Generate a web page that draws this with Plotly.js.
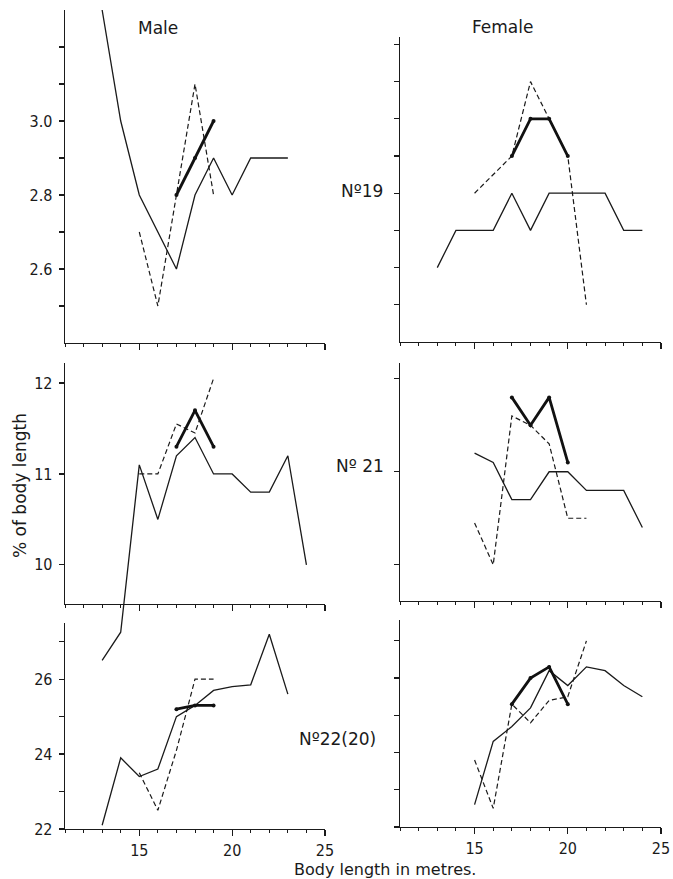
<!DOCTYPE html>
<html><head><meta charset="utf-8">
<script src="https://cdn.plot.ly/plotly-3.0.1.min.js"></script>
<style>html,body{margin:0;padding:0;background:#fff}#chart{width:673px;height:879px}</style>
</head><body><div id="chart"></div>
<script>
// ---------- DATA (body length in metres, % of body length) ----------
// No 19
const maleLen19 = [13,14,15,16,17,18,19,20,21,22,23];
const maleThin19 = [3.3,3.0,2.8,2.7,2.6,2.8,2.9,2.8,2.9,2.9,2.9];
const maleDashLen19 = [15,16,17,18,19];
const maleDash19 = [2.7,2.5,2.8,3.1,2.8];
const maleThickLen19 = [17,18,19];
const maleThick19 = [2.8,2.9,3.0];
const femLen19 = [13,14,15,16,17,18,19,20,21,22,23,24];
const femThin19 = [2.6,2.7,2.7,2.7,2.8,2.7,2.8,2.8,2.8,2.8,2.7,2.7];
const femDashLen19 = [15,16,17,18,19,20,21];
const femDash19 = [2.8,2.85,2.9,3.1,3.0,2.9,2.5];
const femThickLen19 = [17,18,19,20];
const femThick19 = [2.9,3.0,3.0,2.9];
// No 21
const maleLen21 = [13,14,15,16,17,18,19,20,21,22,23,24];
const maleThin21 = [8.95,9.26,11.1,10.5,11.2,11.4,11.0,11.0,10.8,10.8,11.2,10.0];
const maleDashLen21 = [15,16,17,18,19];
const maleDash21 = [11.0,11.0,11.55,11.45,12.05];
const maleThickLen21 = [17,18,19];
const maleThick21 = [11.3,11.7,11.3];
const femLen21 = [15,16,17,18,19,20,21,22,23,24];
const femThin21 = [11.2,11.1,10.7,10.7,11.0,11.0,10.8,10.8,10.8,10.4];
const femDashLen21 = [15,16,17,18,19,20,21];
const femDash21 = [10.45,10.0,11.6,11.5,11.3,10.5,10.5];
const femThickLen21 = [17,18,19,20];
const femThick21 = [11.8,11.5,11.8,11.1];
// No 22(20)
const maleLen22 = [13,14,15,16,17,18,19,20,21,22,23];
const maleThin22 = [22.1,23.9,23.4,23.6,25.0,25.3,25.7,25.8,25.85,27.2,25.6];
const maleDashLen22 = [15,16,17,18,19];
const maleDash22 = [23.5,22.5,24.1,26.0,26.0];
const maleThickLen22 = [17,18,19];
const maleThick22 = [25.2,25.3,25.3];
const femLen22 = [15,16,17,18,19,20,21,22,23,24];
const femThin22 = [22.6,24.3,24.7,25.2,26.2,25.8,26.3,26.2,25.8,25.5];
const femDashLen22 = [15,16,17,18,19,20,21];
const femDash22 = [23.8,22.5,25.3,24.8,25.4,25.5,27.0];
const femThickLen22 = [17,18,19,20];
const femThick22 = [25.3,26.0,26.3,25.3];
// tick labels
const yTicks19 = [2.6,2.8,3.0];
const yMinor19 = [2.5,2.7,2.9,3.1,3.2];
const yTicks21 = [10,11,12];
const yTicks22 = [22,24,26];
const yMinor22 = [23,25,27];
const xTicks = [15,20,25];

// ---------- LAYOUT ----------
const W=673,H=879;
const fx=(a,b)=>[a/W,b/W];
const fy=(top,bot)=>[(H-bot)/H,(H-top)/H];
const INK='#1a1a1a';
const tickFont={family:'Liberation Sans Narrow, DejaVu Sans Condensed, Liberation Sans, sans-serif',size:16,color:INK};
const textFont={family:'DejaVu Sans, sans-serif',size:17,color:INK};

function xa(dom,anchor,labels){
  return {domain:dom,anchor:anchor,range:[11,25],showline:true,linecolor:INK,linewidth:1.3,
    showgrid:false,zeroline:false,tickmode:'array',tickvals:xTicks,ticks:'outside',ticklen:6,
    tickwidth:1.2,tickcolor:INK,showticklabels:labels,tickfont:tickFont,
    minor:{tickmode:'linear',tick0:0,dtick:1,ticks:'outside',ticklen:3,tickwidth:1,tickcolor:INK},
    fixedrange:true};
}
function ya(dom,anchor,range,major,minor,labels,fmt){
  const a={domain:dom,anchor:anchor,range:range,showline:true,linecolor:INK,linewidth:1.3,
    showgrid:false,zeroline:false,tickmode:'array',tickvals:major,ticks:'outside',ticklen:5,
    tickwidth:1.2,tickcolor:INK,showticklabels:labels,tickfont:tickFont,tickformat:fmt,
    ticklabelstandoff:3,fixedrange:true};
  if(minor) a.minor={tickmode:'array',tickvals:minor,ticks:'outside',ticklen:5,tickwidth:1.2,tickcolor:INK};
  return a;
}

const xL=fx(65,325), xR=fx(400,661);
const y3dom=[363,604], y3range=[9.57,12.22];
const pxPerUnit3=(y3dom[1]-y3dom[0])/(y3range[1]-y3range[0]);
const y7bottom=690;
const y7range=[y3range[1]-(y7bottom-y3dom[0])/pxPerUnit3, y3range[1]];

const layout={
  width:W,height:H,margin:{l:0,r:0,t:0,b:0},paper_bgcolor:'#fff',plot_bgcolor:'rgba(0,0,0,0)',
  showlegend:false,
  xaxis:xa(xL,'y',false),  yaxis:ya(fy(10,343),'x',[2.4,3.3],yTicks19,yMinor19,true,'.1f'),
  xaxis2:xa(xR,'y2',false), yaxis2:ya(fy(37,342),'x2',[2.4,3.22],yTicks19,yMinor19,false,'.1f'),
  xaxis3:xa(xL,'y3',false), yaxis3:ya(fy(y3dom[0],y3dom[1]),'x3',y3range,yTicks21,null,true,'d'),
  xaxis4:xa(xR,'y4',false), yaxis4:ya(fy(363,601),'x4',[9.61,12.17],yTicks21,null,false,'d'),
  xaxis5:xa(xL,'y5',true),  yaxis5:ya(fy(623,829),'x5',[22,27.5],yTicks22,yMinor22,true,'d'),
  xaxis6:xa(xR,'y6',true),  yaxis6:ya(fy(620,827),'x6',[22,27.56],yTicks22,yMinor22,false,'d'),
  yaxis7:{domain:fy(y3dom[0],y7bottom),anchor:'x3',range:y7range,visible:false,fixedrange:true},
  annotations:[
    {text:'Male',x:158/W,y:1-28/H},
    {text:'Female',x:502/W,y:1-27/H},
    {text:'Nº19',x:362/W,y:1-191/H},
    {text:'Nº 21',x:360/W,y:1-466/H},
    {text:'Nº22(20)',x:337/W,y:1-739/H},
    {text:'% of body length',x:20/W,y:1-486/H,textangle:-90},
    {text:'Body length in metres.',x:385/W,y:1-869/H,font:{family:'DejaVu Sans, sans-serif',size:16,color:INK}}
  ].map(a=>Object.assign({xref:'paper',yref:'paper',showarrow:false,xanchor:'center',yanchor:'middle',font:textFont},a))
};

// ---------- TRACES ----------
const thin={color:INK,width:1.3};
const dashed={color:INK,width:1.2,dash:'5px,3px'};
const thick={color:'#111',width:2.8};
function tr(x,y,xax,yax,line,mk){
  return {type:'scatter',mode:mk?'lines+markers':'lines',x:x,y:y,xaxis:xax,yaxis:yax,line:line,
    marker:{size:4,color:'#111'},hoverinfo:'skip',showlegend:false};
}
const data=[
  tr(maleLen19,maleThin19,'x','y',thin),
  tr(maleDashLen19,maleDash19,'x','y',dashed),
  tr(maleThickLen19,maleThick19,'x','y',thick,true),
  tr(femLen19,femThin19,'x2','y2',thin),
  tr(femDashLen19,femDash19,'x2','y2',dashed),
  tr(femThickLen19,femThick19,'x2','y2',thick,true),
  tr(maleLen21,maleThin21,'x3','y7',thin),
  tr(maleDashLen21,maleDash21,'x3','y3',dashed),
  tr(maleThickLen21,maleThick21,'x3','y3',thick,true),
  tr(femLen21,femThin21,'x4','y4',thin),
  tr(femDashLen21,femDash21,'x4','y4',dashed),
  tr(femThickLen21,femThick21,'x4','y4',thick,true),
  tr(maleLen22,maleThin22,'x5','y5',thin),
  tr(maleDashLen22,maleDash22,'x5','y5',dashed),
  tr(maleThickLen22,maleThick22,'x5','y5',thick,true),
  tr(femLen22,femThin22,'x6','y6',thin),
  tr(femDashLen22,femDash22,'x6','y6',dashed),
  tr(femThickLen22,femThick22,'x6','y6',thick,true)
];
Plotly.newPlot('chart',data,layout,{staticPlot:true,displayModeBar:false});
</script></body></html>
